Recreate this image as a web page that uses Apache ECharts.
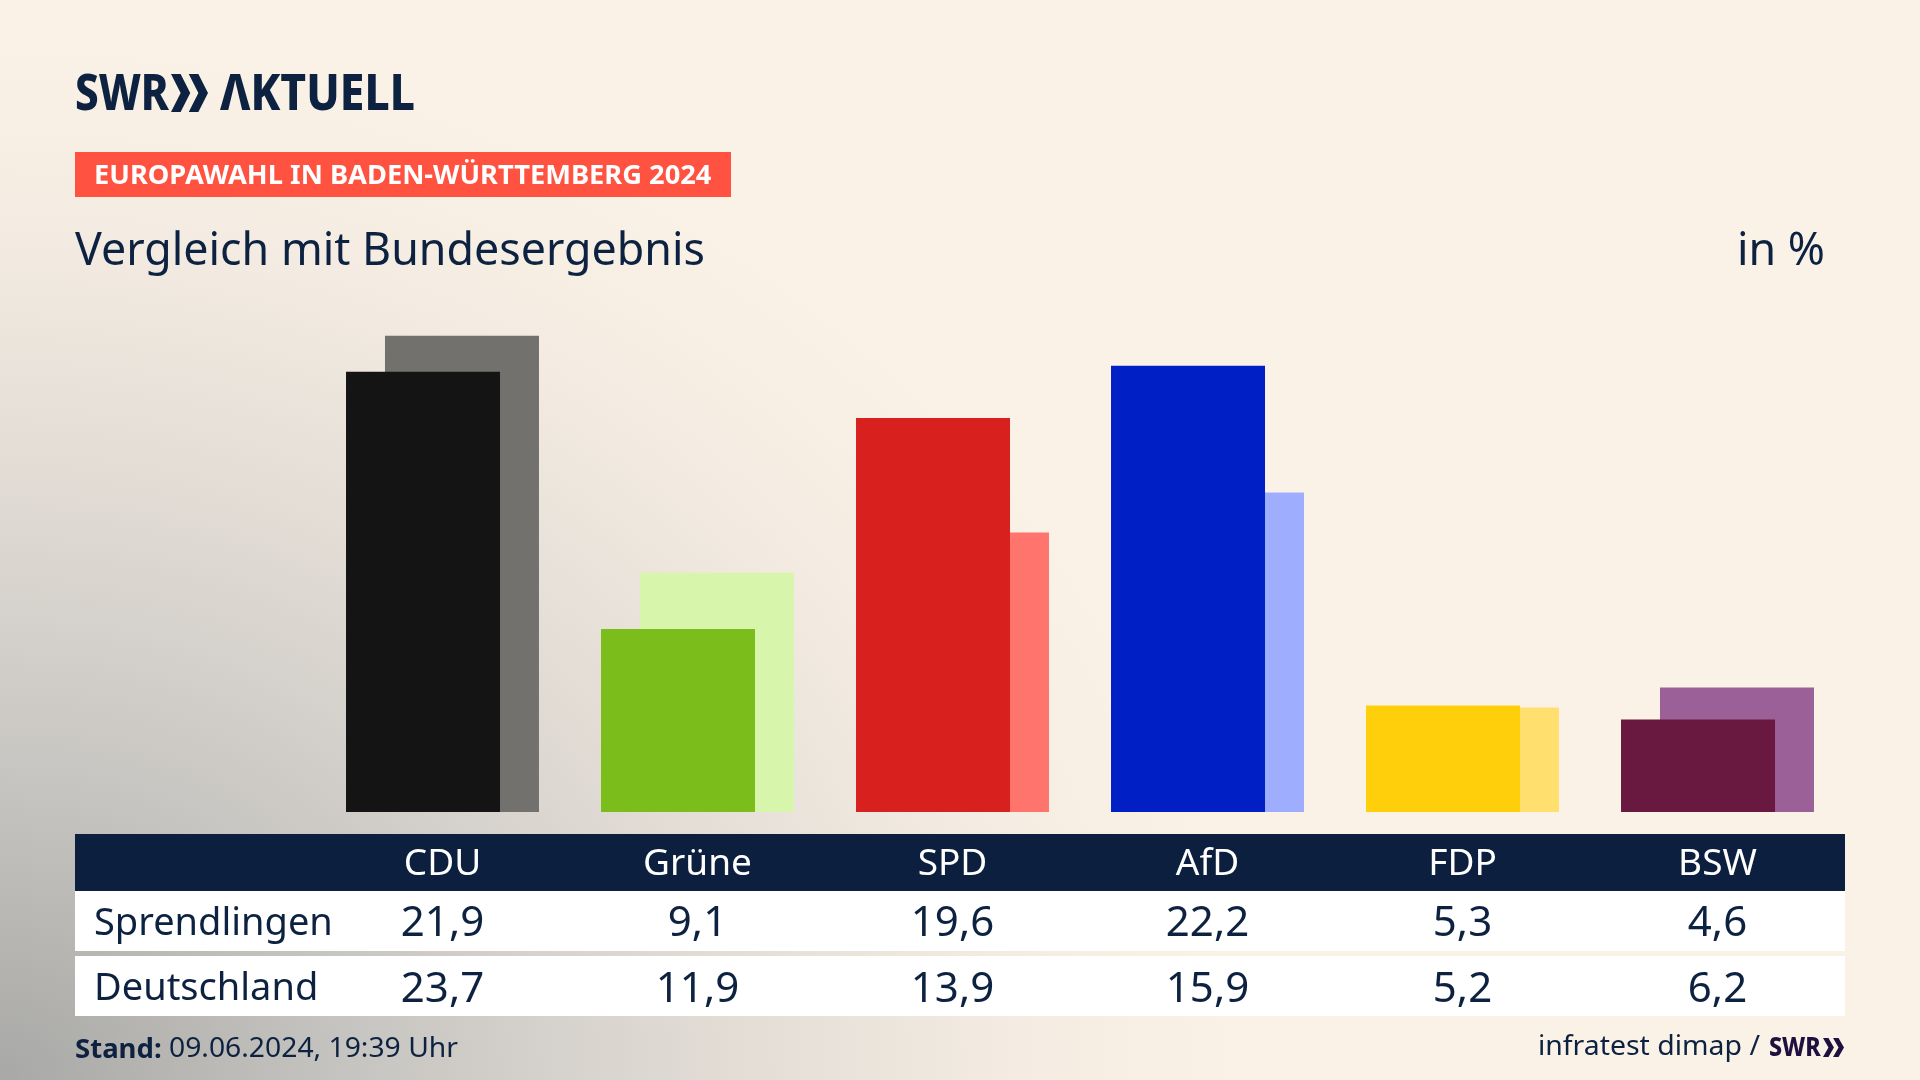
<!DOCTYPE html>
<html><head><meta charset="utf-8">
<style>
html,body{margin:0;padding:0;width:1920px;height:1080px;overflow:hidden;background:#fbf2e7}
#bg{position:absolute;left:0;top:0;width:1920px;height:1080px;background:radial-gradient(ellipse 1250px 1050px at 0px 1080px,#a8a8a6 0%,#c8c6c2 30%,#e2dcd5 58%,#f3ebe1 80%,#fbf2e7 100%)}
#c{position:absolute;left:0;top:0;width:1920px;height:1080px}
</style>
<script src="https://cdn.jsdelivr.net/npm/echarts@6/dist/echarts.min.js"></script>
</head><body><div id="bg"></div><div id="c"></div>
<script>
const categories = ['CDU','Grüne','SPD','AfD','FDP','BSW'];
const sprendlingen = [21.9,9.1,19.6,22.2,5.3,4.6];
const deutschland = [23.7,11.9,13.9,15.9,5.2,6.2];
const darkColors = ['#141414','#7bbd1a','#d8201e','#0020c6','#ffcf0c','#69193f'];
const lightColors = ['#73716d','#d8f6ab','#ff746c','#9fadff','#ffe06e','#9b6097'];
const INK = '#0d2240';
const FONT = '"Noto Sans"';
const fmt = v => v.toFixed(1).replace('.',',');
const rowAxis = (i, vals) => ({
  type:'category', gridIndex:i, data:vals.map(fmt), z:5,
  axisLine:{show:false}, axisTick:{show:false},
  axisLabel:{interval:0, margin:0, verticalAlign:'middle', color:INK, fontFamily:FONT, fontSize:42}
});
const txt = (x,base,s,size,weight,fill,scaleX,align) => ({
  type:'text', x, y:base-0.84*size, scaleX:scaleX||1, z:10,
  style:{text:s, fill, font:`${weight} ${size}px ${FONT}`, textAlign:align||'left', textVerticalAlign:'top'}
});
const rect = (x,y,w,h,fill) => ({type:'rect', z:-1, shape:{x,y,width:w,height:h}, style:{fill}});
const chevrons = (x,y,w,h,fill) => {
  const cw=w*0.52, t=w*0.48;
  return [0,1].map(k=>({type:'polygon', z:10, shape:{points:[
    [x+k*t,y],[x+k*t+cw*0.5,y],[x+k*t+cw,y+h/2],[x+k*t+cw*0.5,y+h],[x+k*t,y+h],[x+k*t+cw*0.5,y+h/2]
  ]}, style:{fill}}));
};
const chart = echarts.init(document.getElementById('c'));
chart.setOption({
  animation:false,
  grid:[
    {left:315, width:1530, top:309.5, height:502.5},
    {left:315, width:1530, top:800, height:124},
    {left:315, width:1530, top:800, height:190}
  ],
  xAxis:[
    {type:'category', gridIndex:0, data:categories, z:5,
     axisLine:{show:false}, axisTick:{show:false},
     axisLabel:{interval:0, margin:52, verticalAlign:'middle', color:'#ffffff', fontFamily:FONT, fontSize:37}},
    rowAxis(1, sprendlingen),
    rowAxis(2, deutschland)
  ],
  yAxis:[
    {type:'value', gridIndex:0, min:0, max:25, show:false},
    {type:'value', gridIndex:1, show:false},
    {type:'value', gridIndex:2, show:false}
  ],
  series:[
    {name:'Sprendlingen', type:'bar', z:3, barWidth:154, barGap:'-74.7%',
     data:sprendlingen.map((v,i)=>({value:v,itemStyle:{color:darkColors[i]}}))},
    {name:'Deutschland', type:'bar', z:2, barWidth:154, barGap:'-74.7%',
     data:deutschland.map((v,i)=>({value:v,itemStyle:{color:lightColors[i]}}))}
  ],
  graphic:{elements:[
    rect(75,834,1770,57,'#0c1f3f'),
    rect(75,891,1770,60,'#ffffff'),
    rect(75,956,1770,60,'#ffffff'),
    rect(75,152,656,45,'#ff5240'),
    txt(75,113,'SWR',49,800,INK,0.86),
    ...chevrons(171,74,37,38,INK),
    txt(220,113,'ΛKTUELL',49,800,INK,0.905),
    txt(94,185.5,'EUROPAWAHL IN BADEN-WÜRTTEMBERG 2024',27,700,'#ffffff',1.01),
    txt(75,268,'Vergleich mit Bundesergebnis',46,400,INK,0.973),
    txt(1825,268,'in %',46,400,INK,0.973,'right'),
    txt(94,937,'Sprendlingen',38,400,INK,1),
    txt(94,1002,'Deutschland',38,400,INK,1),
    txt(75,1059,'Stand:',27,700,INK,1.02),
    txt(169,1059,'09.06.2024, 19:39 Uhr',28,400,INK,1.01),
    txt(1760,1057,'infratest dimap /',28,400,INK,1.015,'right'),
    txt(1769,1057,'SWR',27,800,'#1f1040',0.86),
    ...chevrons(1823,1038,21,19,'#1f1040')
  ]}
});
</script></body></html>
